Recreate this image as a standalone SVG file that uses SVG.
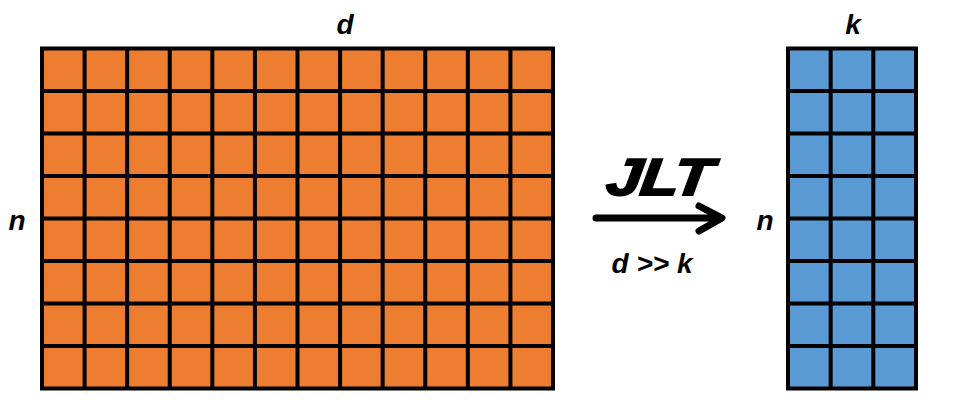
<svg xmlns="http://www.w3.org/2000/svg" width="967" height="406" viewBox="0 0 967 406">
<style>
.lbl{font-family:"Liberation Sans",Arial,sans-serif;font-weight:bold;font-style:italic;font-size:28px;fill:#000}
.grid{stroke:#000;stroke-width:4;fill:none}
.arrow{stroke:#000;stroke-width:7;fill:none;stroke-linecap:round;stroke-linejoin:round}
</style>
<rect width="967" height="406" fill="#fff"/>
<g id="matrix-nd">
<rect x="42" y="48.5" width="511" height="340" fill="#ED7D31"/>
<path class="grid" d="M42 48.5H553V388.5H42Z M84.58 48.5V388.5 M127.17 48.5V388.5 M169.75 48.5V388.5 M212.33 48.5V388.5 M254.92 48.5V388.5 M297.5 48.5V388.5 M340.08 48.5V388.5 M382.67 48.5V388.5 M425.25 48.5V388.5 M467.83 48.5V388.5 M510.42 48.5V388.5 M42 91H553 M42 133.5H553 M42 176H553 M42 218.5H553 M42 261H553 M42 303.5H553 M42 346H553"/>
<text class="lbl" x="345" y="34" text-anchor="middle">d</text>
<text class="lbl" x="17" y="230" text-anchor="middle">n</text>
</g>
<g id="matrix-nk">
<rect x="788" y="48.5" width="128" height="340" fill="#5B9BD5"/>
<path class="grid" d="M788 48.5H916V388.5H788Z M830.67 48.5V388.5 M873.33 48.5V388.5 M788 91H916 M788 133.5H916 M788 176H916 M788 218.5H916 M788 261H916 M788 303.5H916 M788 346H916"/>
<text class="lbl" x="853" y="34" text-anchor="middle">k</text>
<text class="lbl" x="765" y="230" text-anchor="middle">n</text>
</g>
<g id="connectors">
<path class="arrow" d="M596 218H720 M699 206L722 218L699 231"/>
<text class="lbl" transform="translate(657,195) scale(1.22,1) skewX(-6)" text-anchor="middle" style="font-size:52px;stroke:#000;stroke-width:2;letter-spacing:-1px">JLT</text>
<text class="lbl" x="652" y="273" text-anchor="middle">d &gt;&gt; k</text>
</g>
</svg>
